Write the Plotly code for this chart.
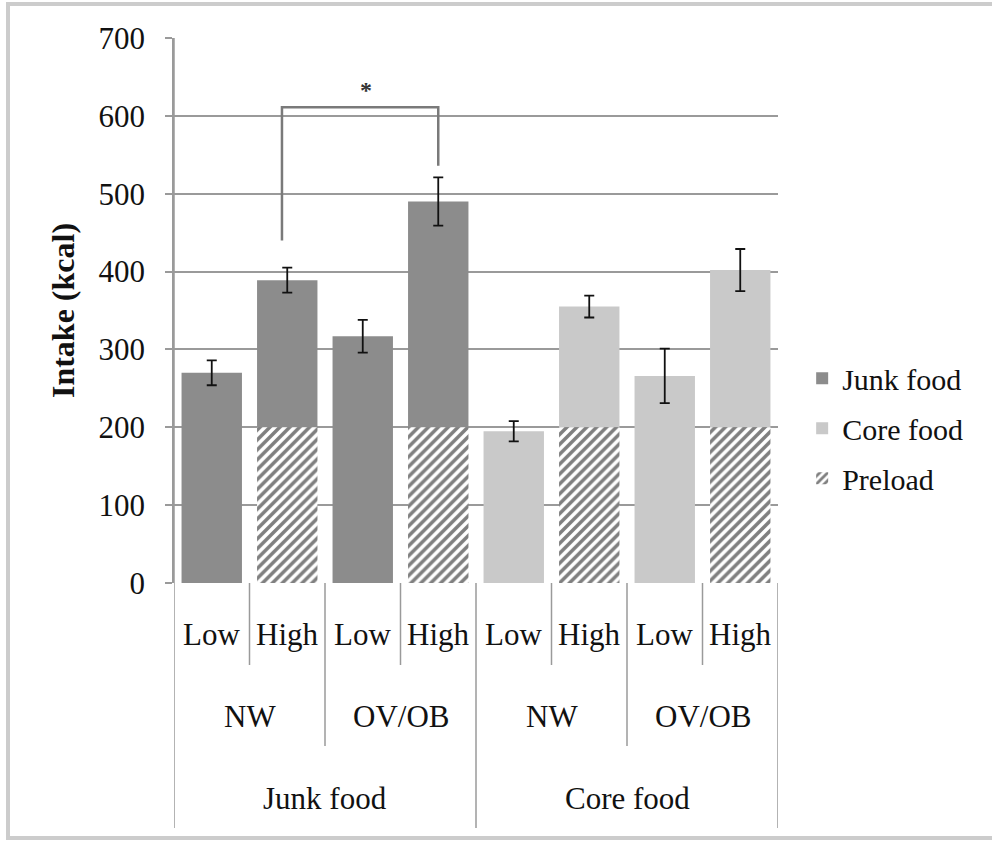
import plotly.graph_objects as go

# ---- data ----
food_type = ["Junk food", "Core food"]
weight_status = ["NW", "OV/OB", "NW", "OV/OB"]
preload_level = ["Low", "High", "Low", "High", "Low", "High", "Low", "High"]

junk_total = [270, 389, 317, 490]
junk_err = [16, 16, 21, 31]
junk_base = [0, 200, 0, 200]

core_total = [195, 355, 266, 402]
core_err = [13, 14, 35, 27]
core_base = [0, 200, 0, 200]

preload_value = [200, 200, 200, 200]

y_ticks = [0, 100, 200, 300, 400, 500, 600, 700]

sig_left = 0.93
sig_right = 3.0
sig_left_y = 440
sig_right_y = 536
sig_top_y = 611
sig_star_y = 633

# ---- positions ----
xs = list(range(len(preload_level)))
junk_x = xs[0:4]
core_x = xs[4:8]
preload_x = [1, 3, 5, 7]

FONT = "Liberation Serif, Times New Roman, serif"
JUNK = "#8c8c8c"
CORE = "#c9c9c9"
GRID = "#9a9a9a"
BW = 0.8

fig = go.Figure()

fig.add_trace(go.Bar(
    x=junk_x, y=[t - b for t, b in zip(junk_total, junk_base)], base=junk_base, width=BW,
    name="Junk food", legendgroup="a", marker=dict(color=JUNK, line=dict(width=0)),
    error_y=dict(type="data", array=junk_err, color="#111", thickness=1.8, width=5),
))
fig.add_trace(go.Bar(
    x=core_x, y=[t - b for t, b in zip(core_total, core_base)], base=core_base, width=BW,
    name="Core food", legendgroup="b", marker=dict(color=CORE, line=dict(width=0)),
    error_y=dict(type="data", array=core_err, color="#111", thickness=1.8, width=5),
))
fig.add_trace(go.Bar(
    x=preload_x, y=preload_value, name="Preload", legendgroup="c", width=BW,
    marker=dict(color="white", line=dict(width=0),
                pattern=dict(shape="/", fgcolor="#000000", bgcolor="white", size=7, solidity=0.5)),
))

shapes = []
n = len(preload_level)


def py(pix):
    return (583 - pix) / 545.0


for i in range(n + 1):
    xb = i - 0.5
    if i in (0, 4, 8):
        y0 = py(828)
        y1 = 1 if i == 0 else 0
    elif i in (2, 6):
        y0, y1 = py(746), 0
    else:
        y0, y1 = py(665), 0
    shapes.append(dict(type="line", xref="x", yref="paper", x0=xb, x1=xb, y0=y0, y1=y1,
                       line=dict(color=GRID, width=1.5)))

# significance bracket
shapes.append(dict(type="path", xref="x", yref="y",
                   path=f"M {sig_left},{sig_left_y} L {sig_left},{sig_top_y} L {sig_right},{sig_top_y} L {sig_right},{sig_right_y}",
                   line=dict(color="#7a7a7a", width=2.5)))

# outer frame
shapes.append(dict(type="rect", xref="paper", yref="paper",
                   x0=(8 - 174) / 604.0, x1=(1000 - 174) / 604.0, y0=py(838), y1=py(4),
                   line=dict(color="#cccccc", width=4), fillcolor="rgba(0,0,0,0)", layer="below"))

LBL = 31
annotations = []
for i, lab in enumerate(preload_level):
    annotations.append(dict(x=i, y=py(634), xref="x", yref="paper", text=lab, showarrow=False,
                            yanchor="middle", font=dict(family=FONT, size=LBL, color="#111")))
for j, lab in enumerate(weight_status):
    annotations.append(dict(x=2 * j + 0.5, y=py(716), xref="x", yref="paper", text=lab, showarrow=False,
                            yanchor="middle", font=dict(family=FONT, size=LBL, color="#111")))
for k, lab in enumerate(food_type):
    annotations.append(dict(x=4 * k + 1.5, y=py(798), xref="x", yref="paper", text=lab, showarrow=False,
                            yanchor="middle", font=dict(family=FONT, size=LBL, color="#111")))
annotations.append(dict(x=(sig_left + sig_right) / 2 + 0.08, y=sig_star_y, xref="x", yref="y", text="<b>*</b>",
                        showarrow=False, yanchor="middle", font=dict(family=FONT, size=24, color="#333")))

fig.update_layout(
    width=992, height=842,
    margin=dict(l=174, r=214, t=38, b=259),
    paper_bgcolor="white", plot_bgcolor="white",
    barmode="overlay",
    font=dict(family=FONT, color="#111"),
    showlegend=True,
    legend=dict(x=1.04, y=0.284, xanchor="left", yanchor="middle",
                font=dict(family=FONT, size=30, color="#111"),
                itemsizing="constant", tracegroupgap=8, bgcolor="rgba(0,0,0,0)"),
    shapes=shapes, annotations=annotations,
)
fig.update_xaxes(range=[-0.5, n - 0.5], showticklabels=False, showgrid=False, zeroline=False,
                 showline=False, ticks="")
fig.update_yaxes(range=[0, 700], tickvals=y_ticks, showgrid=True, gridcolor=GRID, gridwidth=1.5,
                 zeroline=False, showline=True, linecolor=GRID, linewidth=1.5,
                 ticks="outside", ticklen=7, tickcolor=GRID, tickwidth=1.5, ticklabelstandoff=14,
                 tickfont=dict(family=FONT, size=31, color="#111"),
                 title=dict(text="<b>Intake (kcal)</b>", font=dict(family=FONT, size=32, color="#111"),
                            standoff=14))

fig.write_html("out.html")
